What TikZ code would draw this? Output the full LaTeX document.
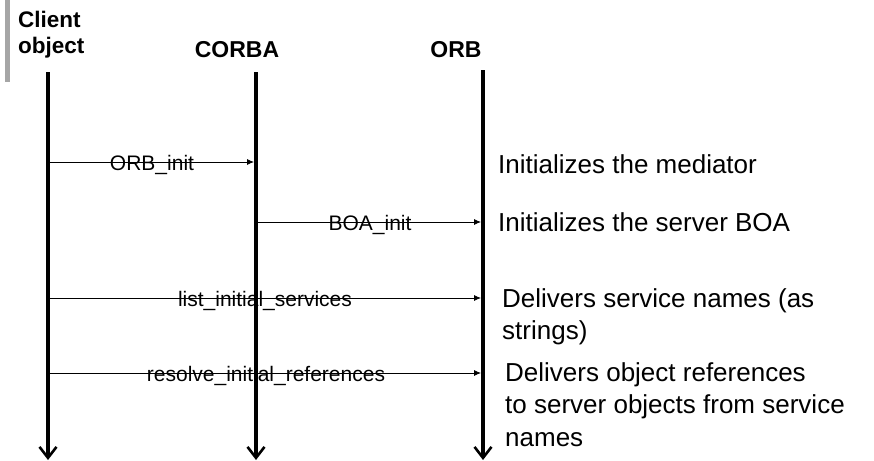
\documentclass[tikz,border=0pt]{standalone}
\usepackage{fontspec}
\setmainfont{Liberation Sans}
\usetikzlibrary{arrows.meta}

\begin{document}
\begin{tikzpicture}[x=1pt,y=-1pt,
  lifeline/.style={line width=3.5pt,-{Straight Barb[length=11pt,width=17pt,line width=2.6pt]}},
  msg/.style={line width=0.8pt,-{Latex[length=7pt,width=6pt]}},
  head/.style={font=\fontsize{23}{25}\selectfont\bfseries,inner sep=0pt},
  msglabel/.style={font=\fontsize{21}{24}\selectfont,inner sep=0pt,anchor=base},
  note/.style={font=\fontsize{26}{32.5}\selectfont,inner sep=0pt,align=left,anchor=base west}]
\useasboundingbox (0,0) rectangle (874,460);
% side bar
\fill[gray!70] (5,0) rectangle (10,82);

% define the participants
  \node[head,align=left,anchor=base west,font=\fontsize{22.5}{25}\selectfont\bfseries] (client) at (18,53) {Client\\object};
  \node[head,anchor=base] (corba) at (237,57) {CORBA};
  \node[head,anchor=base] (orb)   at (456,57) {ORB};

  \coordinate (cTop) at (48,72);   \coordinate (cBot) at (48,460);
  \coordinate (kTop) at (256,72);  \coordinate (kBot) at (256,460);
  \coordinate (oTop) at (483,70);  \coordinate (oBot) at (483,460);

% define the lifelines
  \draw[lifeline] (cTop) -- (cBot);
  \draw[lifeline] (kTop) -- (kBot);
  \draw[lifeline] (oTop) -- (oBot);

% define the messages
  \coordinate (c1) at (48,162);   \coordinate (k1) at (254,162);
  \coordinate (k2) at (258,222);  \coordinate (o2) at (481,222);
  \coordinate (c3) at (48,298);   \coordinate (o3) at (481,298);
  \coordinate (c4) at (48,373);   \coordinate (o4) at (481,373);

  \draw[msg] (c1) -- (k1);
  \draw[msg] (k2) -- (o2);
  \draw[msg] (c3) -- (o3);
  \draw[msg] (c4) -- (o4);

  \node[msglabel] (m1) at (152,170) {ORB\_init};
  \node[msglabel] (m2) at (370,230) {BOA\_init};
  \node[msglabel] (m3) at (265,306) {list\_initial\_services};
  \node[msglabel] (m4) at (266,381) {resolve\_initial\_references};

% define the notes (base = last line)
  \node[note] (n1) at (498,173) {Initializes the mediator};
  \node[note] (n2) at (498,231) {Initializes the server BOA};
  \node[note] (n3) at (502,339.5) {Delivers service names (as\\strings)};
  \node[note] (n4) at (505,446) {Delivers object references\\to server objects from service\\names};
\end{tikzpicture}
\end{document}
